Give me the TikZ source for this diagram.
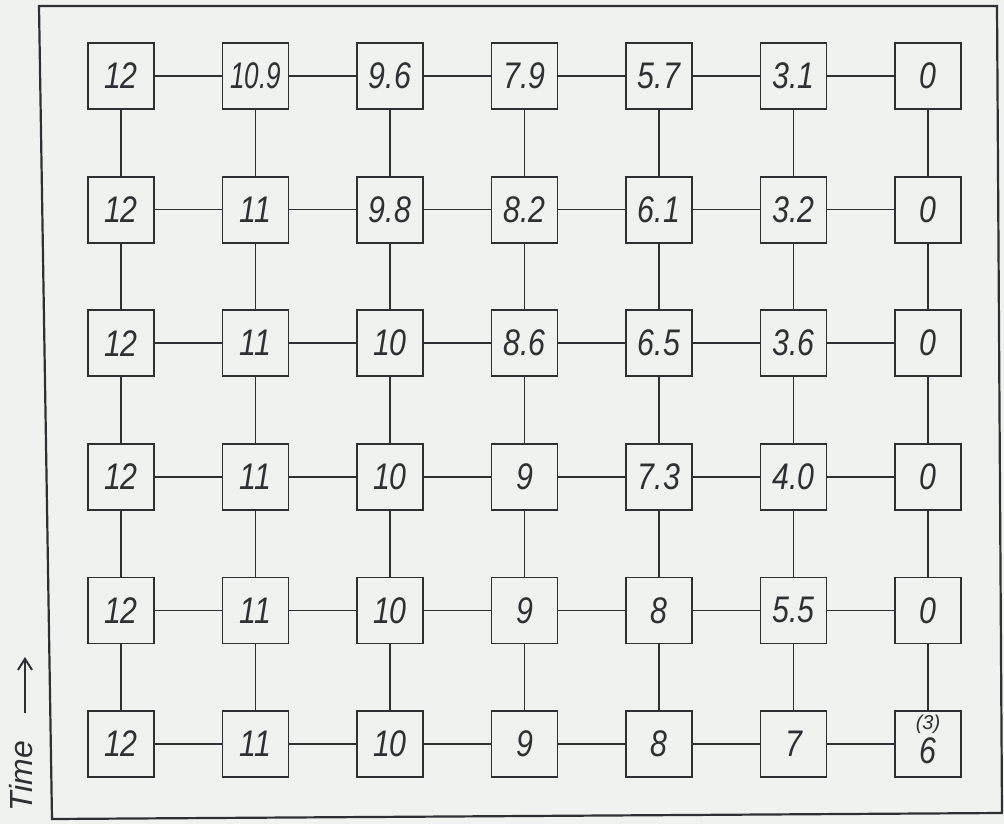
\documentclass[tikz,border=0pt]{standalone}
\usepackage{fontspec}
\setmainfont{Liberation Sans}
\usepackage{graphicx}
\usetikzlibrary{arrows.meta}
\definecolor{ink}{HTML}{2E3133}
\definecolor{paper}{HTML}{F0F2F0}
\newcommand{\nm}[1]{\scalebox{0.82}[1]{#1}}
\begin{document}
\begin{tikzpicture}[x=1pt,y=-1pt,
  cell/.style={draw=ink,line width=1.8pt,minimum width=66pt,minimum height=66pt,
    inner sep=0pt,text=ink,font=\fontsize{37}{37}\selectfont\itshape},
  link/.style={draw=ink,line width=1.7pt},
  frame/.style={draw=ink,line width=2.2pt},
  timelabel/.style={rotate=90,anchor=west,inner sep=0pt,text=ink,
    font=\fontsize{32}{32}\selectfont\itshape},
  timearrow/.style={draw=ink,line width=2pt,-{Straight Barb[length=11pt,width=14pt]}}]
\fill[paper] (0,0) rectangle (1004,824);
\useasboundingbox (0,0) rectangle (1004,824);
% outer frame
\draw[frame] (39,6) -- (997,6) -- (1002,813) -- (52,819) -- cycle;
% grid of cells
\foreach [count=\j] \row in {
  {12,{\scalebox{0.86}[1]{10.9}},9.6,7.9,5.7,3.1,0},
  {12,11,9.8,8.2,6.1,3.2,0},
  {12,11,10,8.6,6.5,3.6,0},
  {12,11,10,9,7.3,4.0,0},
  {12,11,10,9,8,5.5,0},
  {12,11,10,9,8,7}} {
  \foreach [count=\i] \v in \row {
    \node[cell] (n-\i-\j) at ({121+134.5*(\i-1)},{76+133.6*(\j-1)}) {\nm{\v}};
  }
}
\node[cell] (n-7-6) at ({121+134.5*6},{76+133.6*5}) {};
\node[text=ink,inner sep=0pt,font=\fontsize{20}{20}\selectfont\itshape] (n-7-6-a) at ([yshift=20pt]n-7-6.center) {(3)};
\node[text=ink,inner sep=0pt,font=\fontsize{37}{37}\selectfont\itshape] (n-7-6-b) at ([yshift=-7pt]n-7-6.center) {\nm{6}};
% connectors
\foreach \j in {1,...,6} {
  \foreach \i [evaluate=\i as \k using int(\i+1)] in {1,...,6} {
    \draw[link] (n-\i-\j) -- (n-\k-\j);
  }
}
\foreach \i in {1,...,7} {
  \foreach \j [evaluate=\j as \k using int(\j+1)] in {1,...,5} {
    \draw[link] (n-\i-\j) -- (n-\i-\k);
  }
}
% time label
\node[timelabel] (time) at (21,812) {Time};
\coordinate (timetip) at (25,657);
\draw[timearrow] ([xshift=4pt,yshift=28pt]time.east) -- (timetip);
\end{tikzpicture}
\end{document}
